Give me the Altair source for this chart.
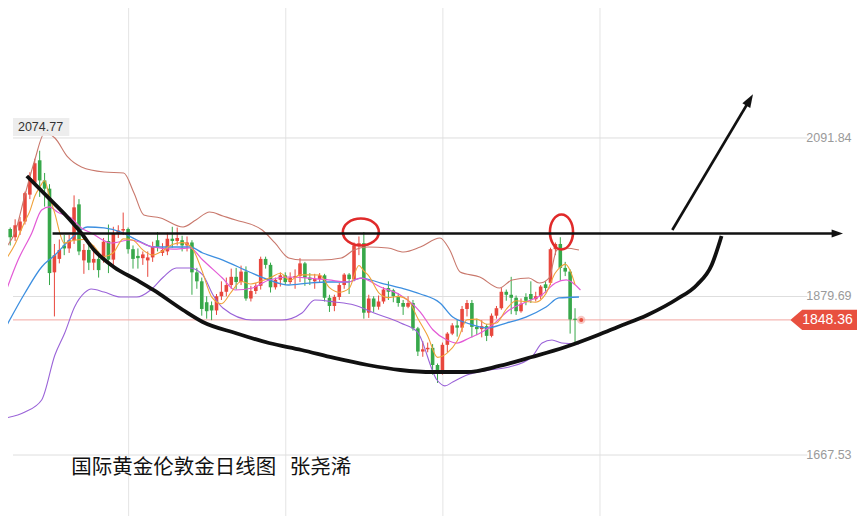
import altair as alt
import pandas as pd

# ---------------- candle data (daily gold, 2020-07-29 .. 2021-01-11) ----------------
opens = [1958, 1970, 1959, 1968, 1980, 2016, 2032, 2062, 2035, 2024,
         1912, 1930, 1948, 1944, 1955, 2003, 1928, 1942, 1925, 1930,
         1929, 1954, 1929, 1964, 1968, 1970, 1943, 1934, 1931, 1928,
         1932, 1955, 1938, 1940, 1957, 1954, 1955, 1948, 1952, 1912,
         1900, 1872, 1868, 1861, 1880, 1886, 1895, 1906, 1899, 1913,
         1877, 1887, 1894, 1930, 1922, 1892, 1902, 1908, 1899, 1905,
         1907, 1924, 1905, 1900, 1903, 1908, 1878, 1867, 1879, 1895,
         1909, 1903, 1948, 1951, 1858, 1877, 1866, 1873, 1891, 1888,
         1880, 1871, 1866, 1871, 1837, 1806, 1809, 1811, 1788, 1777,
         1815, 1830, 1841, 1838, 1863, 1871, 1839, 1836, 1840, 1827,
         1854, 1864, 1886, 1882, 1878, 1860, 1879, 1883, 1876, 1880,
         1896, 1898, 1943, 1950, 1918, 1913, 1850]
highs = [1973, 1972, 1983, 1986, 2020, 2046, 2064, 2074.77, 2045, 2030,
         1950, 1956, 1962, 1962, 2015, 2010, 1950, 1950, 1948, 1940,
         1958, 1976, 1973, 1975, 1992, 1972, 1948, 1944, 1940, 1940,
         1953, 1966, 1951, 1965, 1973, 1972, 1961, 1960, 1955, 1918,
         1905, 1880, 1873, 1883, 1900, 1905, 1917, 1918, 1921, 1920,
         1894, 1898, 1933, 1933, 1925, 1905, 1912, 1912, 1912, 1916,
         1931, 1926, 1911, 1910, 1911, 1910, 1882, 1882, 1898, 1911,
         1911, 1952, 1960, 1966, 1882, 1880, 1881, 1892, 1900, 1890,
         1884, 1875, 1880, 1875, 1839, 1820, 1818, 1816, 1790, 1818,
         1832, 1844, 1848, 1867, 1875, 1875, 1850, 1848, 1843, 1857,
         1867, 1891, 1889, 1906, 1881, 1877, 1884, 1900, 1886, 1895,
         1900, 1945, 1952, 1959, 1926, 1916, 1864]
lows = [1948, 1948, 1954, 1962, 1976, 2010, 2028, 2013, 2000, 1895,
        1853, 1924, 1935, 1938, 1950, 1935, 1910, 1915, 1915, 1905,
        1925, 1911, 1922, 1958, 1962, 1937, 1917, 1917, 1922, 1906,
        1926, 1940, 1934, 1935, 1945, 1948, 1940, 1940, 1882, 1890,
        1854, 1850, 1848, 1855, 1875, 1880, 1890, 1889, 1895, 1874,
        1873, 1883, 1889, 1917, 1885, 1889, 1893, 1895, 1896, 1890,
        1899, 1894, 1895, 1890, 1899, 1873, 1859, 1860, 1875, 1890,
        1883, 1900, 1935, 1850, 1851, 1859, 1862, 1870, 1875, 1872,
        1866, 1855, 1864, 1834, 1800, 1799, 1805, 1775, 1764, 1775,
        1805, 1828, 1826, 1832, 1853, 1825, 1828, 1825, 1820, 1825,
        1850, 1862, 1874, 1856, 1855, 1858, 1868, 1871, 1873, 1876,
        1885, 1895, 1935, 1901, 1907, 1830, 1818]
closes = [1970, 1959, 1975, 1980, 2018, 2038, 2058, 2035, 2024, 1911,
          1935, 1942, 1944, 1955, 1999, 1940, 1942, 1925, 1930, 1915,
          1953, 1929, 1964, 1968, 1970, 1943, 1930, 1931, 1936, 1932,
          1947, 1946, 1942, 1957, 1954, 1958, 1948, 1952, 1912, 1900,
          1863, 1860, 1861, 1880, 1886, 1895, 1906, 1899, 1913, 1877,
          1887, 1894, 1930, 1922, 1892, 1902, 1908, 1899, 1905, 1907,
          1924, 1905, 1902, 1903, 1908, 1878, 1867, 1879, 1895, 1909,
          1903, 1948, 1951, 1858, 1877, 1866, 1873, 1889, 1886, 1880,
          1871, 1866, 1871, 1837, 1806, 1809, 1811, 1788, 1777, 1815,
          1830, 1841, 1838, 1863, 1871, 1839, 1836, 1840, 1827, 1854,
          1864, 1886, 1882, 1878, 1860, 1870, 1874, 1876, 1880, 1893,
          1891, 1943, 1950, 1918, 1913, 1849, 1848.36]

# ---------------- indicator lines (candle index, price) ----------------
ub_i = [0, 2.0, 4.0, 6.0, 8.0, 10.1, 12.7, 15.5, 20.1, 24.1, 26.2, 28.2, 31.6, 36.2, 38.8,
        41.6, 44.3, 46.9, 52.3, 54.9, 57.7, 60.4, 64.4, 68.4, 71.0, 73.8, 77.9, 81.1, 84.5,
        88.5, 90.5, 92.6, 96.6, 100.6, 103.2, 106.6, 108.7, 110.7, 112.3, 114.1, 116.8]
ub_p = [1944.6, 1966.0, 2015.5, 2062.4, 2098.5, 2091.8, 2066.4, 2053.0, 2046.3, 2045.0, 2018.2,
        1988.8, 1984.8, 1972.7, 1982.1, 1992.8, 1987.4, 1982.1, 1968.7, 1951.3, 1931.2, 1928.5,
        1928.5, 1931.2, 1941.9, 1945.9, 1944.6, 1939.2, 1945.9, 1958.0, 1941.9, 1912.5, 1905.8,
        1891.1, 1901.8, 1904.4, 1897.7, 1904.4, 1941.9, 1944.6, 1941.9]

lb_i = [0, 4.0, 7.4, 10.1, 12.1, 14.1, 16.1, 17.5, 20.1, 23.5, 26.8, 29.6, 32.2, 34.8, 37.6,
        40.2, 42.3, 44.3, 50.3, 56.3, 60.4, 63.0, 67.0, 71.0, 75.1, 80.5, 83.9, 87.9, 89.5,
        91.1, 94.0, 98.6, 102.6, 107.2, 109.3, 111.3, 113.3, 116.8]
lb_p = [1717.0, 1725.1, 1741.2, 1801.4, 1830.8, 1865.6, 1884.4, 1889.7, 1885.7, 1879.0, 1879.0,
        1888.4, 1905.8, 1917.8, 1917.8, 1908.5, 1881.7, 1864.3, 1848.2, 1848.2, 1857.6, 1875.0,
        1872.3, 1868.3, 1857.6, 1844.2, 1832.2, 1767.9, 1760.0, 1765.2, 1774.6, 1781.3, 1785.3,
        1798.7, 1817.4, 1821.5, 1817.4, 1816.1]

mid_i = [0, 4.0, 7.4, 10.1, 13.5, 16.7, 20.1, 23.5, 26.8, 30.2, 33.6, 37.6, 40.2, 44.3, 49.7,
         53.7, 57.7, 61.8, 65.8, 69.8, 72.4, 76.5, 80.5, 84.5, 88.5, 91.1, 94.0, 98.0, 102.0,
         106.0, 110.1, 112.7, 116.8]
mid_p = [1837.5, 1884.4, 1919.2, 1935.2, 1958.0, 1972.7, 1971.4, 1966.0, 1955.3, 1945.9, 1945.9,
         1945.9, 1937.9, 1928.5, 1912.5, 1901.8, 1895.1, 1897.7, 1899.1, 1899.1, 1904.4, 1897.7,
         1891.1, 1883.0, 1871.0, 1852.2, 1844.2, 1837.5, 1844.2, 1852.2, 1865.6, 1877.7, 1879.0]

ma10_i = [0, 2.6, 5.4, 7.4, 9.0, 10.6, 13.4, 15.5, 17.5, 21.5, 25.5, 30.1, 34.2, 37.6, 40.2,
          44.2, 46.8, 50.3, 53.7, 57.7, 61.7, 65.8, 69.8, 72.4, 76.4, 80.4, 84.5, 87.1, 89.9,
          91.9, 94.5, 97.1, 99.2, 102.6, 106.0, 109.2, 112.0, 114.2, 117.1]
ma10_p = [1884.4, 1928.5, 1964.7, 1995.5, 1999.5, 1992.8, 1984.8, 1971.4, 1964.7, 1951.3, 1955.3,
          1945.9, 1943.0, 1944.6, 1928.5, 1904.4, 1888.4, 1891.1, 1901.8, 1905.8, 1904.4, 1901.8,
          1899.1, 1904.4, 1892.4, 1881.7, 1858.9, 1834.8, 1821.5, 1817.4, 1824.2, 1832.2, 1841.5,
          1861.6, 1872.3, 1881.7, 1897.7, 1901.8, 1888.4]

ma5_i = [0, 2, 4, 5, 6, 7, 8, 9, 10, 12, 14, 16, 18, 20, 22, 24, 26, 28, 30, 32, 34, 36, 38, 40,
         42, 44, 46, 48, 50, 52, 54, 56, 58, 60, 62, 64, 66, 68, 70, 72, 73, 74, 76, 78, 80, 82,
         84, 86, 88, 90, 92, 94, 96, 98, 100, 102, 104, 106, 108, 110, 112, 113, 114, 115, 116]
ma5_p = [1928, 1950, 1980.4, 1994.0, 2013.8, 2025.8, 2034.6, 2013.2, 1992.6, 1951.2, 1955.0,
         1956.0, 1947.2, 1933.0, 1938.2, 1956.8, 1955.0, 1942.0, 1935.2, 1940.6, 1949.2, 1951.8,
         1944.8, 1915.0, 1879.2, 1870.0, 1885.6, 1899.8, 1896.4, 1900.2, 1905.0, 1910.8, 1901.2,
         1908.6, 1908.6, 1908.4, 1891.6, 1885.4, 1890.6, 1921.2, 1913.8, 1907.4, 1885.0, 1878.2,
         1879.8, 1874.8, 1850.2, 1826.8, 1798.2, 1804.2, 1820.2, 1848.6, 1849.4, 1842.6, 1844.2,
         1862.6, 1874.0, 1872.8, 1872.0, 1882.8, 1911.4, 1919.0, 1923.0, 1914.6, 1895.7]

# ---------------- hand-drawn annotations (candle index, price) ----------------
cup_i = [4.38, 8.61, 12.63, 15.45, 18.07, 22.09, 26.72, 30.14, 36.18, 40.2, 46.84, 53.68, 60.32,
         66.96, 73.8, 80.44, 87.08, 93.92, 100.56, 107.2, 114.04, 120.68, 124.7, 130.74, 136.78,
         140.8, 143.82, 145.83]
cup_p = [2041.0, 2012.9, 1986.1, 1964.7, 1941.9, 1919.2, 1901.8, 1888.4, 1861.6, 1845.6, 1830.8,
         1817.4, 1808.1, 1797.4, 1788.0, 1781.3, 1778.6, 1778.6, 1786.7, 1798.7, 1812.1, 1828.2,
         1838.9, 1854.9, 1876.3, 1895.1, 1921.8, 1960.7]
res_i = [9.62, 169.4]
res_p = [1964.0, 1964.0]
up_i = [135.8, 151.55]
up_p = [1968.7, 2142.7]
ell_i = [72.39, 113.24]
ell_p = [1966.0, 1966.0]

axis_levels = [2091.84, 1879.69, 1667.53]
axis_labels = ["2091.84", "1879.69", "1667.53"]
vgrid_i = [25.11, 57.10, 89.09, 121.08]
last_price = 1848.36
last_label = "1848.36"
high_label = "2074.77"
title_a = "国际黄金伦敦金日线图"
title_b = "张尧浠"

# ---------------- scales ----------------
W, H = 849, 508
XMIN, XMAX = 1.567, 172.39
YMIN, YMAX = 1585.9, 2265.8
xs = alt.Scale(domain=[XMIN, XMAX], nice=False, zero=False)
ys = alt.Scale(domain=[YMIN, YMAX], nice=False, zero=False)


def X(f="i"):
    return alt.X(f, type="quantitative", scale=xs, axis=None)


def Y(f="p"):
    return alt.Y(f, type="quantitative", scale=ys, axis=None)


RED = "#e8473d"
GREEN = "#37a84a"

cdf = pd.DataFrame({"i": list(range(len(opens))), "open": opens, "high": highs,
                    "low": lows, "close": closes})
cdf["dir"] = ["up" if c >= o else "down" for o, c in zip(opens, closes)]
ccol = alt.Color("dir:N", scale=alt.Scale(domain=["up", "down"], range=[RED, GREEN]), legend=None)

layers = []

# grid
layers.append(alt.Chart(pd.DataFrame({"i": vgrid_i})).mark_rule(color="#e4e4e4", strokeWidth=1)
              .encode(x=X()))
hg = pd.DataFrame({"p": axis_levels, "x0": [XMIN] * 3, "x1": [163.3] * 3})
layers.append(alt.Chart(hg).mark_rule(color="#dedede", strokeWidth=1)
              .encode(x=X("x0"), x2="x1", y=Y()))
# current price line
pl = pd.DataFrame({"p": [last_price], "x0": [XMIN], "x1": [159.9]})
layers.append(alt.Chart(pl).mark_rule(color="#f2a7a2", strokeWidth=1)
              .encode(x=X("x0"), x2="x1", y=Y()))

# candles
layers.append(alt.Chart(cdf).mark_rule(strokeWidth=1, clip=True)
              .encode(x=X(), y=Y("low"), y2="high", color=ccol))
layers.append(alt.Chart(cdf).mark_bar(size=3.6, clip=True)
              .encode(x=X(), y=Y("open"), y2="close", color=ccol))


def line(ii, pp, color, w=1.1, interp="monotone"):
    df = pd.DataFrame({"i": ii, "p": pp})
    return alt.Chart(df).mark_line(color=color, strokeWidth=w, interpolate=interp, clip=True).encode(
        x=X(), y=Y())


layers.append(line(ub_i, ub_p, "#c9786c"))
layers.append(line(lb_i, lb_p, "#9a63d8"))
layers.append(line(mid_i, mid_p, "#3d8fe0", 1.3))
layers.append(line(ma10_i, ma10_p, "#e35ad6", 1.2))
layers.append(line(ma5_i, ma5_p, "#f0a23a", 1.1))

# ellipses
E1 = "M -1 0 A 1 0.75 0 1 1 1 0 A 1 0.75 0 1 1 -1 0 Z"
E2 = "M -0.66 0 A 0.66 1 0 1 1 0.66 0 A 0.66 1 0 1 1 -0.66 0 Z"
layers.append(alt.Chart(pd.DataFrame({"i": ell_i[:1], "p": ell_p[:1]}))
              .mark_point(shape=E1, size=1296, filled=False, stroke="#e02a2a", strokeWidth=2.6, opacity=1)
              .encode(x=X(), y=Y()))
layers.append(alt.Chart(pd.DataFrame({"i": ell_i[1:], "p": ell_p[1:]}))
              .mark_point(shape=E2, size=1225, filled=False, stroke="#e02a2a", strokeWidth=2.6, opacity=1)
              .encode(x=X(), y=Y()))

# black drawings
layers.append(line(cup_i, cup_p, "#111111", 3.8))
layers.append(line(res_i, res_p, "#111111", 2.6, "linear"))
layers.append(line(up_i, up_p, "#111111", 2.6, "linear"))
HEAD = "M 0 -1 L 0.7 1 L -0.7 1 Z"
layers.append(alt.Chart(pd.DataFrame({"i": [res_i[1]], "p": [res_p[1]]}))
              .mark_point(shape=HEAD, size=130, filled=True, color="#111111", angle=90, opacity=1)
              .encode(x=X(), y=Y()))
layers.append(alt.Chart(pd.DataFrame({"i": [up_i[1]], "p": [up_p[1]]}))
              .mark_point(shape=HEAD, size=170, filled=True, color="#111111", angle=30.6, opacity=1)
              .encode(x=X(), y=Y()))

# high label box
hb = pd.DataFrame({"x0": [XMIN], "x1": [13.04], "y0": [2094.5], "y1": [2118.6]})
layers.append(alt.Chart(hb).mark_rect(color="#ebebeb", opacity=0.9)
              .encode(x=X("x0"), x2="x1", y=Y("y0"), y2="y1"))
layers.append(alt.Chart(pd.DataFrame({"i": [2.57], "p": [2106.6], "t": [high_label]}))
              .mark_text(align="left", baseline="middle", fontSize=12.5, font="Liberation Sans",
                         color="#333333")
              .encode(x=X(), y=Y(), text="t:N"))

# right axis labels
layers.append(alt.Chart(pd.DataFrame({"i": [172.3] * 3, "p": axis_levels, "t": axis_labels}))
              .mark_text(align="right", baseline="middle", fontSize=12.5, font="Liberation Sans",
                         color="#9a9a9a")
              .encode(x=X(), y=Y(), text="t:N"))

# current price tag and dot
TAG = "M -1 0 L -0.66 -0.29 L 1 -0.29 L 1 0.29 L -0.66 0.29 Z"
layers.append(alt.Chart(pd.DataFrame({"i": [166.96], "p": [last_price]}))
              .mark_point(shape=TAG, size=4900, filled=True, color="#e8503f", opacity=1)
              .encode(x=X(), y=Y()))
layers.append(alt.Chart(pd.DataFrame({"i": [167.4], "p": [last_price], "t": [last_label]}))
              .mark_text(align="center", baseline="middle", fontSize=14, font="Liberation Sans",
                         color="white")
              .encode(x=X(), y=Y(), text="t:N"))
layers.append(alt.Chart(pd.DataFrame({"i": [117.26], "p": [last_price]}))
              .mark_point(shape="circle", size=70, filled=True, color="#f4a39c", opacity=0.6)
              .encode(x=X(), y=Y()))
layers.append(alt.Chart(pd.DataFrame({"i": [117.26], "p": [last_price]}))
              .mark_point(shape="circle", size=16, filled=True, color="#e8503f", opacity=1)
              .encode(x=X(), y=Y()))

# title texts
layers.append(alt.Chart(pd.DataFrame({"i": [13.44, 57.9], "p": [1650.1, 1650.1], "t": [title_a, title_b]}))
              .mark_text(align="left", baseline="middle", fontSize=20.5, font="Noto Sans CJK SC",
                         color="#111111")
              .encode(x=X(), y=Y(), text="t:N"))

chart = alt.layer(*layers).properties(
    width=W, height=H, padding=0, autosize=alt.AutoSizeParams(type="none"),
    background="white"
).configure_view(stroke=None)

chart.save("out.html", embed_options={"renderer": "svg", "actions": False})
